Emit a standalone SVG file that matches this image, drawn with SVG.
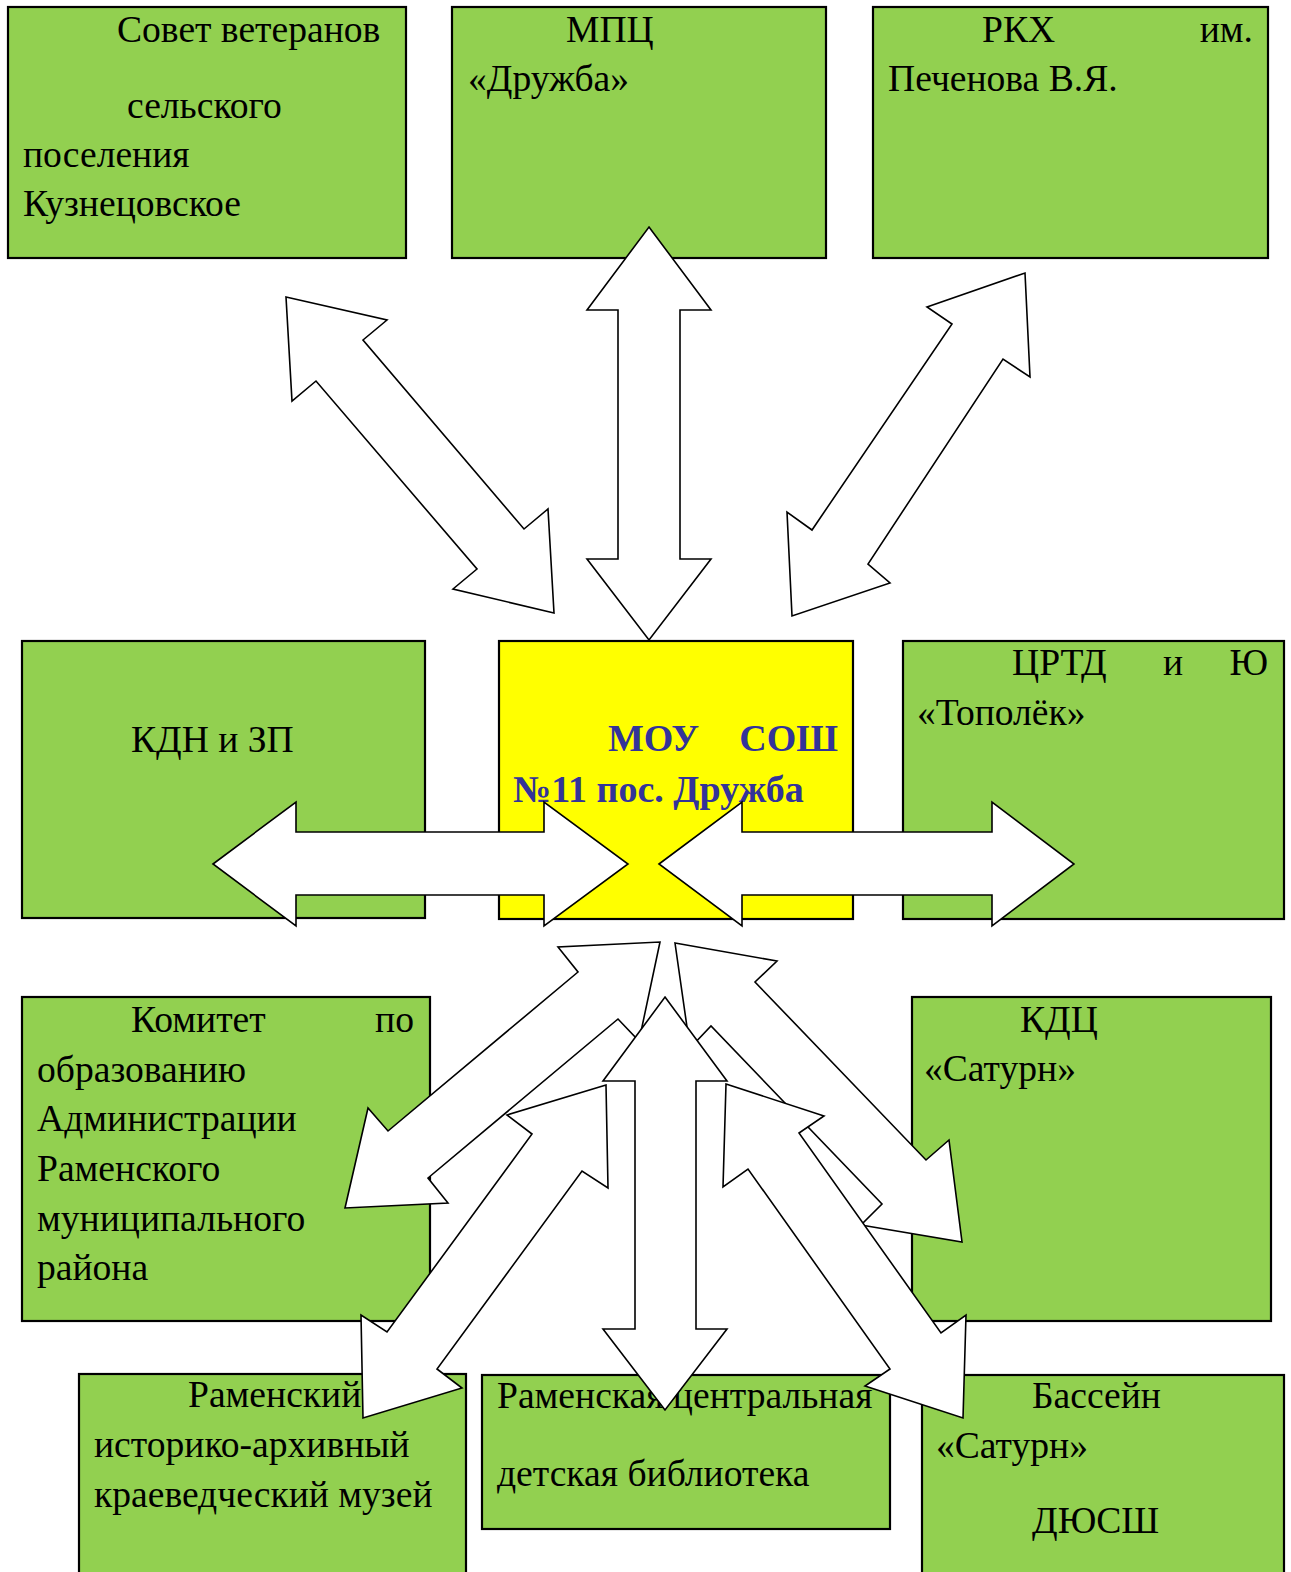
<svg xmlns="http://www.w3.org/2000/svg" width="1291" height="1572" viewBox="0 0 1291 1572">
<style>
.box{fill:#92D050;stroke:#000;stroke-width:2.2}
.ybox{fill:#FFFF00;stroke:#000;stroke-width:2.2}
.t{font-family:"Liberation Serif","Times New Roman",serif;font-size:37.6px;fill:#000}
.tb{font-family:"Liberation Serif","Times New Roman",serif;font-size:38px;font-weight:bold;fill:#333399}
.arr{fill:#fff;stroke:#000;stroke-width:1.6;stroke-linejoin:miter}
</style>
<rect width="1291" height="1572" fill="#fff"/>
<g id="n-sovet">
<rect class="box" x="8" y="7" width="398" height="251"/>
<text class="t" x="117" y="42">Совет ветеранов</text>
<text class="t" x="127" y="118">сельского</text>
<text class="t" x="23" y="167">поселения</text>
<text class="t" x="23" y="216">Кузнецовское</text>
</g>
<g id="n-mpc">
<rect class="box" x="452" y="7" width="374" height="251"/>
<text class="t" x="566" y="42">МПЦ</text>
<text class="t" x="468" y="91">«Дружба»</text>
</g>
<g id="n-rkh">
<rect class="box" x="873" y="7" width="395" height="251"/>
<text class="t" x="982" y="42">РКХ</text>
<text class="t" x="1253" y="42" text-anchor="end">им.</text>
<text class="t" x="888" y="91">Печенова В.Я.</text>
</g>
<g id="n-kdn">
<rect class="box" x="22" y="641" width="403" height="277"/>
<text class="t" x="131" y="752">КДН и ЗП</text>
</g>
<g id="n-mou">
<rect class="ybox" x="499" y="641" width="354" height="278"/>
<text class="tb" x="608" y="751">МОУ</text>
<text class="tb" x="838" y="751" text-anchor="end">СОШ</text>
<text class="tb" x="513" y="802">№11 пос. Дружба</text>
</g>
<g id="n-crtd">
<rect class="box" x="903" y="641" width="381" height="278"/>
<text class="t" x="1012" y="675">ЦРТД</text>
<text class="t" x="1163" y="675">и</text>
<text class="t" x="1268" y="675" text-anchor="end">Ю</text>
<text class="t" x="917" y="725">«Тополёк»</text>
</g>
<g id="n-komitet">
<rect class="box" x="22" y="997" width="408" height="324"/>
<text class="t" x="131" y="1032">Комитет</text>
<text class="t" x="414" y="1032" text-anchor="end">по</text>
<text class="t" x="37" y="1082">образованию</text>
<text class="t" x="37" y="1131">Администрации</text>
<text class="t" x="37" y="1181">Раменского</text>
<text class="t" x="37" y="1231">муниципального</text>
<text class="t" x="37" y="1280">района</text>
</g>
<g id="n-kdc">
<rect class="box" x="912" y="997" width="359" height="324"/>
<text class="t" x="1020" y="1032">КДЦ</text>
<text class="t" x="924" y="1081">«Сатурн»</text>
</g>
<g id="n-muzey">
<rect class="box" x="79" y="1374" width="387" height="210"/>
<text class="t" x="188" y="1407">Раменский</text>
<text class="t" x="94" y="1457">историко-архивный</text>
<text class="t" x="94" y="1507">краеведческий музей</text>
</g>
<g id="n-biblio">
<rect class="box" x="482" y="1375" width="408" height="154"/>
<text class="t" x="497" y="1408">Раменская центральная</text>
<text class="t" x="497" y="1486">детская библиотека</text>
</g>
<g id="n-basseyn">
<rect class="box" x="922" y="1375" width="362" height="210"/>
<text class="t" x="1032" y="1408">Бассейн</text>
<text class="t" x="936" y="1458">«Сатурн»</text>
<text class="t" x="1032" y="1533">ДЮСШ</text>
</g>
<g id="connectors">
<polygon class="arr" points="286,297 387,320 363,340 524,529 548,509 554,613 453,589 477,569 316,381 292,401"/>
<polygon class="arr" points="649,227 711,310 680,310 680,559 711,559 649,640 587,559 618,559 618,310 587,310"/>
<polygon class="arr" points="1025,273 1030,377 1003,359 868,564 890,583 792,616 787,512 812,530 952,324 927,307"/>
<polygon class="arr" points="213,864 296,802 296,832 544,832 544,802 628,864 544,926 544,895 296,895 296,926"/>
<polygon class="arr" points="659,864 742,802 742,832 992,832 992,802 1074,864 992,926 992,895 742,895 742,926"/>
<polygon class="arr" points="660,942 639,1041 618,1019 428,1178 448,1203 345,1208 368,1108 388,1131 578,972 558,947"/>
<polygon class="arr" points="675,943 777,961 755,982 926,1160 949,1140 962,1242 861,1225 882,1204 711,1026 690,1048"/>
<polygon class="arr" points="606,1085 507,1115 532,1134 387,1332 361,1315 363,1418 462,1388 437,1369 582,1171 608,1188"/>
<polygon class="arr" points="726,1084 824,1116 799,1133 941,1333 966,1315 963,1418 865,1386 890,1369 748,1169 723,1187"/>
<polygon class="arr" points="665,997 727,1081 696,1081 696,1329 727,1329 665,1410 603,1329 635,1329 635,1081 603,1081"/>
</g>
</svg>
